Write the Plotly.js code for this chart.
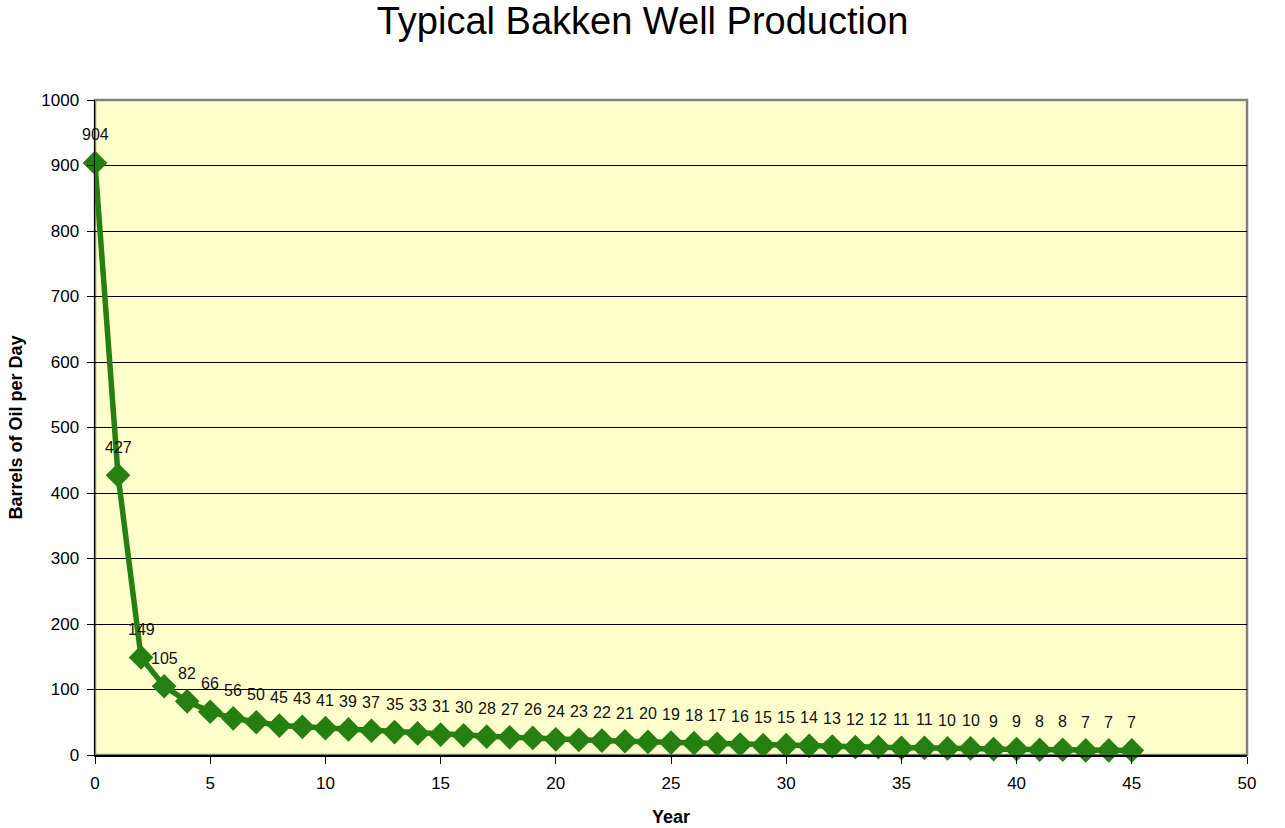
<!DOCTYPE html>
<html><head><meta charset="utf-8">
<script src="https://cdn.plot.ly/plotly-3.0.1.min.js"></script>
<style>html,body{margin:0;padding:0;background:#fff}#chart{width:1285px;height:828px}</style>
</head><body><div id="chart"></div>
<script>
const years = [0,1,2,3,4,5,6,7,8,9,10,11,12,13,14,15,16,17,18,19,20,21,22,23,24,25,26,27,28,29,30,31,32,33,34,35,36,37,38,39,40,41,42,43,44,45];
const barrels = [904,427,149,105,82,66,56,50,45,43,41,39,37,35,33,31,30,28,27,26,24,23,22,21,20,19,18,17,16,15,15,14,13,12,12,11,11,10,10,9,9,8,8,7,7,7];
const xTicks = [0,5,10,15,20,25,30,35,40,45,50];
const yTicks = [0,100,200,300,400,500,600,700,800,900,1000];

const FONT = 'Liberation Sans, Arial, sans-serif';
const annotations = years.map((x,i)=>({
  x: x, y: barrels[i], text: String(barrels[i]),
  xref:'x', yref:'y', showarrow:false, yshift:28,
  font:{family:FONT,size:16,color:'#111'}
}));

const trace = {
  x: years, y: barrels, type:'scatter', mode:'lines+markers',
  line:{color:'#267F12', width:5.5},
  marker:{symbol:'diamond', size:19, color:'#267F12'},
  cliponaxis:false, hoverinfo:'x+y'
};

const layout = {
  width:1285, height:828,
  margin:{l:95, r:38, t:100, b:73},
  paper_bgcolor:'#ffffff', plot_bgcolor:'#FFFFCC',
  showlegend:false,
  title:{text:'Typical Bakken Well Production', font:{family:FONT,size:38,color:'#000'},
    x:0.5, xanchor:'center', y:0.975, yanchor:'middle', yref:'container'},
  xaxis:{range:[0,50], tickvals:xTicks, ticktext:xTicks.map(String), ticks:'outside', ticklen:7, tickcolor:'#000',
    ticklabelstandoff:5,
    showline:true, linecolor:'#000', linewidth:1.5, showgrid:false, zeroline:false,
    tickfont:{family:FONT,size:17,color:'#000'},
    title:{text:'<b>Year</b>', font:{family:FONT,size:18,color:'#000'}, standoff:18}},
  yaxis:{range:[0,1000], tickvals:yTicks, ticktext:yTicks.map(String), ticks:'outside', ticklen:7, tickcolor:'#000',
    ticklabelstandoff:4,
    showline:true, linecolor:'#000', linewidth:1.5, showgrid:true, gridcolor:'#000', gridwidth:1, zeroline:false,
    tickfont:{family:FONT,size:17,color:'#000'},
    title:{text:'<b>Barrels of Oil per Day</b>', font:{family:FONT,size:18,color:'#000'}, standoff:14}},
  shapes:[{type:'rect', xref:'paper', yref:'paper', x0:0, x1:1, y0:0, y1:1, line:{color:'#808080', width:2.5}, layer:'below'}],
  annotations: annotations
};
Plotly.newPlot('chart',[trace],layout,{displayModeBar:false,staticPlot:true});
</script></body></html>
